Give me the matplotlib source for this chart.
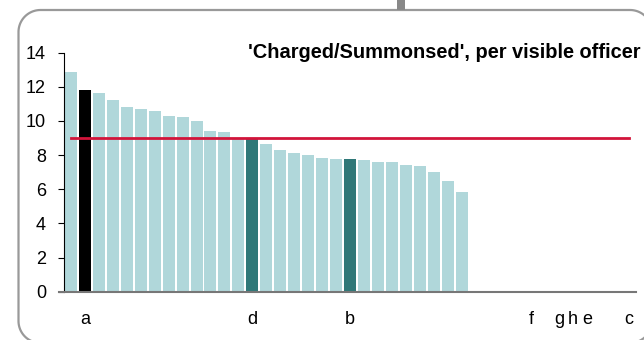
import matplotlib
matplotlib.use("Agg")
import numpy as np
import matplotlib.pyplot as plt
from matplotlib.patches import PathPatch, Rectangle
from matplotlib.path import Path
from matplotlib.transforms import IdentityTransform

plt.rcParams['font.family'] = ['Liberation Sans', 'DejaVu Sans']

# Forces ranked by charged/summonsed per visible officer (41 slots, 29 with data)
values = [12.85, 11.82, 11.64, 11.25, 10.82, 10.70, 10.59, 10.29, 10.23, 10.02,
          9.41, 9.34, 8.98, 8.95, 8.63, 8.28, 8.11, 8.00, 7.81, 7.77,
          7.76, 7.74, 7.58, 7.57, 7.42, 7.35, 7.01, 6.47, 5.82]
n_slots = 41
# highlighted slots (1-based) and their colours
highlight = {2: 'black', 14: 'dark', 21: 'dark'}
# x labels (1-based slot -> text)
x_labels = {2: 'a', 14: 'd', 21: 'b', 34: 'f', 36: 'g', 37: 'h', 38: 'e', 41: 'c'}
average = 9.0
y_ticks = [0, 2, 4, 6, 8, 10, 12, 14]
title = "'Charged/Summonsed', per visible officer"

LIGHT = '#b0d7da'
DARK = '#2f7878'
RED = '#d2143a'

W, H = 644, 340
fig = plt.figure(figsize=(W / 100, H / 100), dpi=100)


def rounded_rect(x0, y0, x1, y1, r, n=24):
    """Closed rounded-rectangle outline in pixel units."""
    pts = []
    corners = [(x1 - r, y1 - r, 0), (x0 + r, y1 - r, 90),
               (x0 + r, y0 + r, 180), (x1 - r, y0 + r, 270)]
    for cx, cy, a0 in corners:
        t = np.radians(np.linspace(a0, a0 + 90, n))
        pts.extend(zip(cx + r * np.cos(t), cy + r * np.sin(t)))
    pts.append(pts[0])
    return Path(np.array(pts))


# panel frame and connector stub, in pixel coordinates
frame = PathPatch(rounded_rect(18.5, -3, 652, 330, 22),
                  transform=IdentityTransform(), fill=False,
                  edgecolor='#999999', linewidth=1.6)
fig.patches.append(frame)
stub = Rectangle((397, 330), 8, 12, transform=IdentityTransform(),
                 facecolor='#888888', edgecolor='none')
fig.patches.append(stub)

ax = fig.add_axes([64 / W, 1 - 291.7 / H, (636 - 64) / W, (291.7 - 52.7) / H])

xs = list(range(1, len(values) + 1))
colors = []
for i in xs:
    kind = highlight.get(i)
    colors.append('black' if kind == 'black' else DARK if kind == 'dark' else LIGHT)
ax.bar(xs, values, width=0.86, color=colors, linewidth=0, zorder=2)

ax.plot([1, n_slots], [average, average], color=RED, linewidth=2, zorder=3)

ax.set_xlim(0.5, n_slots + 0.5)
ax.set_ylim(0, 14)
ax.set_yticks(y_ticks)
ax.set_yticklabels([str(t) for t in y_ticks])
ax.set_xticks(list(x_labels.keys()))
ax.set_xticklabels(list(x_labels.values()))

for s in ('top', 'right'):
    ax.spines[s].set_visible(False)
ax.spines['left'].set_color('black')
ax.spines['left'].set_linewidth(0.8)
ax.spines['bottom'].set_color('#777777')
ax.spines['bottom'].set_linewidth(1.5)
ax.spines['bottom'].set_bounds(0.15, n_slots + 0.5)
ax.spines['bottom'].set_zorder(4)

ax.tick_params(axis='y', direction='out', length=4, width=0.8, color='black',
               labelsize=13, pad=9)
ax.tick_params(axis='x', length=0, labelsize=13, pad=14)

fig.text(640 / W, 1 - 53 / H, title, ha='right', va='center',
         fontsize=14.4, fontweight='bold')

fig.savefig('out.png', dpi=100)
